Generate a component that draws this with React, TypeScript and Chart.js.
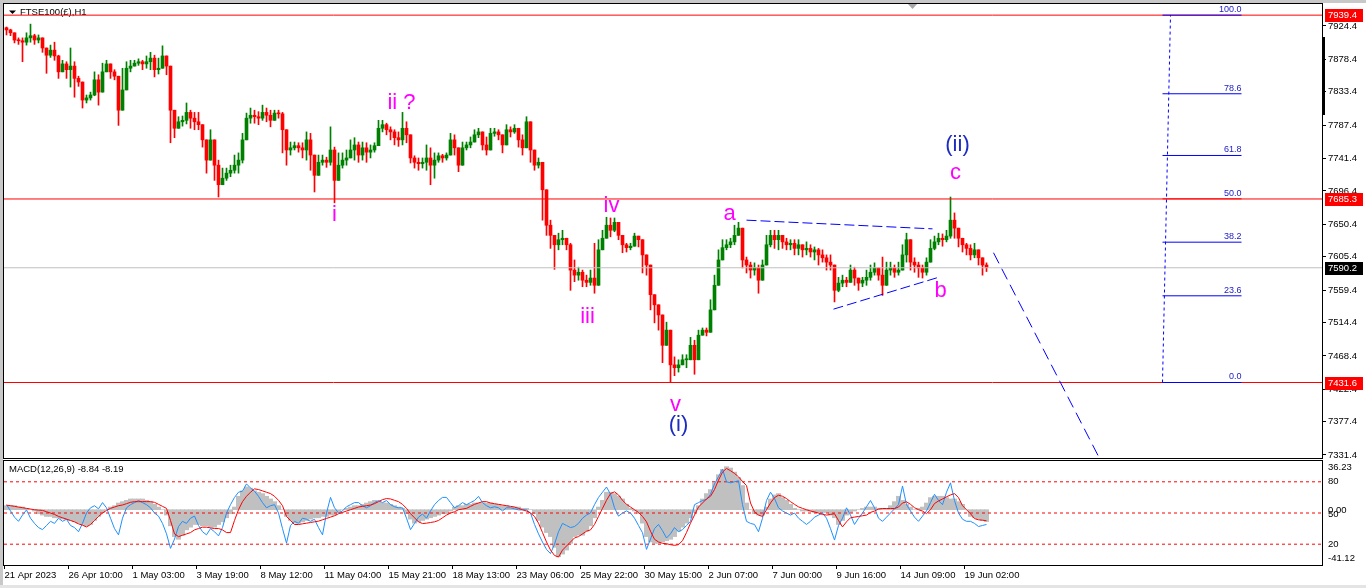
import { useEffect, useRef } from 'react';
import { Chart, registerables } from 'chart.js';

Chart.register(...registerables);

const FONT = '"Liberation Sans", Arial, sans-serif';

// ---------------- data ----------------
const symbolTitle = 'FTSE100(£),H1';

const timeLabels = [
  '21 Apr 2023', '26 Apr 10:00', '1 May 03:00', '3 May 19:00', '8 May 12:00', '11 May 04:00',
  '15 May 21:00', '18 May 13:00', '23 May 06:00', '25 May 22:00', '30 May 15:00', '2 Jun 07:00',
  '7 Jun 00:00', '9 Jun 16:00', '14 Jun 09:00', '19 Jun 02:00',
];
const barsPerTimeLabel = 16;

const priceTicks = [
  7924.4, 7878.4, 7833.4, 7787.4, 7741.4, 7696.4, 7650.4, 7605.4, 7559.4, 7514.4, 7468.4, 7422.4, 7377.4, 7331.4,
];

const firstOpen = 7922;
const closes = [
  7919, 7915, 7905, 7904, 7902, 7908, 7911, 7905, 7908, 7894,
  7884, 7891, 7883, 7861, 7872, 7864, 7869, 7852, 7847, 7822,
  7825, 7829, 7850, 7833, 7861, 7872, 7861, 7855, 7808, 7836,
  7866, 7869, 7873, 7875, 7872, 7875, 7880, 7864, 7866, 7883,
  7869, 7808, 7783, 7792, 7794, 7805, 7797, 7792, 7788, 7767,
  7739, 7767, 7732, 7705, 7714, 7721, 7725, 7732, 7739, 7767,
  7797, 7801, 7799, 7797, 7805, 7801, 7794, 7804, 7803, 7781,
  7753, 7756, 7759, 7756, 7753, 7767, 7746, 7718, 7736, 7739,
  7736, 7753, 7711, 7732, 7739, 7742, 7753, 7760, 7746, 7756,
  7750, 7753, 7759, 7783, 7788, 7781, 7778, 7770, 7767, 7783,
  7774, 7742, 7736, 7734, 7736, 7742, 7732, 7739, 7745, 7742,
  7746, 7767, 7756, 7732, 7756, 7760, 7764, 7774, 7778, 7760,
  7753, 7776, 7778, 7774, 7760, 7781, 7778, 7783, 7767, 7756,
  7792, 7753, 7732, 7736, 7698, 7649, 7635, 7622, 7629, 7631,
  7622, 7587, 7580, 7584, 7573, 7570, 7576, 7566, 7615, 7631,
  7649, 7642, 7653, 7635, 7622, 7618, 7620, 7634, 7629, 7608,
  7594, 7553, 7539, 7525, 7483, 7504, 7456, 7452, 7456, 7463,
  7463, 7483, 7463, 7497, 7504, 7501, 7532, 7566, 7601, 7618,
  7622, 7626, 7635, 7645, 7601, 7594, 7587, 7590, 7573, 7594,
  7622, 7635, 7629, 7635, 7626, 7622, 7624, 7617, 7622, 7615,
  7617, 7612, 7615, 7608, 7604, 7598, 7594, 7559, 7569, 7573,
  7570, 7587, 7576, 7569, 7573, 7577, 7584, 7590, 7580, 7566,
  7587, 7590, 7584, 7587, 7608, 7629, 7598, 7594, 7590, 7584,
  7598, 7617, 7626, 7631, 7629, 7634, 7656, 7645, 7631, 7622,
  7617, 7608, 7615, 7604, 7594, 7590.2,
];
const highs = [
  7923, 7920, 7909, 7908, 7908, 7915, 7927, 7913, 7912, 7902,
  7891, 7898, 7902, 7884, 7877, 7875, 7894, 7875, 7855, 7844,
  7829, 7833, 7861, 7857, 7873, 7877, 7866, 7864, 7850, 7866,
  7875, 7877, 7877, 7879, 7877, 7883, 7888, 7884, 7880, 7897,
  7877, 7864, 7794, 7799, 7800, 7818, 7808, 7805, 7805, 7785,
  7760, 7781, 7757, 7739, 7728, 7728, 7732, 7746, 7749, 7776,
  7804, 7811, 7808, 7806, 7815, 7811, 7808, 7808, 7808, 7805,
  7767, 7764, 7764, 7763, 7763, 7778, 7776, 7739, 7746, 7746,
  7743, 7785, 7757, 7749, 7749, 7753, 7767, 7770, 7764, 7764,
  7763, 7760, 7763, 7794, 7794, 7790, 7785, 7781, 7778, 7805,
  7792, 7756, 7745, 7742, 7742, 7760, 7756, 7749, 7749, 7747,
  7749, 7776, 7774, 7750, 7764, 7764, 7771, 7781, 7783, 7771,
  7771, 7783, 7783, 7781, 7770, 7788, 7785, 7788, 7778, 7774,
  7799, 7770, 7742, 7742, 7732, 7659, 7656, 7635, 7638, 7642,
  7631, 7624, 7601, 7591, 7587, 7580, 7587, 7624, 7629, 7642,
  7660, 7659, 7659, 7645, 7629, 7624, 7624, 7638, 7634, 7626,
  7608, 7577, 7553, 7536, 7518, 7515, 7477, 7467, 7463, 7470,
  7470, 7494, 7490, 7504, 7507, 7507, 7546, 7580, 7615, 7629,
  7629, 7631, 7649, 7653, 7642, 7605, 7598, 7597, 7594, 7601,
  7635, 7642, 7642, 7642, 7635, 7631, 7629, 7629, 7629, 7622,
  7626, 7622, 7619, 7617, 7615, 7608, 7608, 7587, 7577, 7580,
  7577, 7594, 7591, 7576, 7577, 7587, 7594, 7597, 7590, 7605,
  7598, 7598, 7594, 7598, 7622, 7638, 7622, 7604, 7598, 7594,
  7604, 7629, 7634, 7638, 7637, 7642, 7688, 7666, 7645, 7631,
  7624, 7622, 7624, 7615, 7601, 7597,
];
const lows = [
  7912, 7911, 7901, 7899, 7875, 7898, 7902, 7899, 7901, 7888,
  7859, 7881, 7877, 7852, 7861, 7852, 7840, 7826, 7841, 7811,
  7818, 7822, 7828, 7815, 7839, 7864, 7852, 7850, 7787, 7808,
  7857, 7861, 7869, 7870, 7864, 7866, 7864, 7854, 7858, 7869,
  7857, 7763, 7770, 7785, 7786, 7789, 7783, 7781, 7781, 7757,
  7721, 7757, 7711, 7688, 7705, 7711, 7716, 7721, 7721, 7735,
  7776, 7790, 7790, 7788, 7794, 7792, 7785, 7797, 7797, 7749,
  7732, 7746, 7753, 7750, 7742, 7739, 7725, 7695, 7725, 7732,
  7729, 7732, 7680, 7723, 7728, 7732, 7742, 7739, 7736, 7739,
  7736, 7742, 7750, 7767, 7778, 7774, 7767, 7760, 7758, 7760,
  7763, 7735, 7728, 7725, 7728, 7725, 7705, 7714, 7736, 7736,
  7739, 7760, 7746, 7723, 7750, 7753, 7756, 7767, 7770, 7753,
  7746, 7767, 7772, 7767, 7749, 7771, 7771, 7776, 7757, 7746,
  7778, 7736, 7725, 7728, 7656, 7635, 7617, 7588, 7615, 7622,
  7615, 7559, 7571, 7573, 7564, 7564, 7566, 7555, 7594, 7617,
  7633, 7633, 7640, 7629, 7611, 7612, 7615, 7626, 7619, 7583,
  7580, 7532, 7514, 7504, 7459, 7486, 7431.6, 7441, 7446, 7456,
  7452, 7463, 7443, 7490, 7497, 7496, 7511, 7546, 7573, 7608,
  7615, 7618, 7622, 7638, 7590, 7583, 7576, 7580, 7555, 7580,
  7601, 7619, 7617, 7615, 7617, 7615, 7615, 7608, 7608, 7605,
  7608, 7605, 7601, 7594, 7598, 7587, 7587, 7543, 7557, 7564,
  7564, 7576, 7566, 7559, 7564, 7566, 7573, 7580, 7573, 7552,
  7580, 7580, 7577, 7580, 7594, 7598, 7587, 7584, 7577, 7576,
  7580, 7598, 7615, 7622, 7620, 7626, 7631, 7631, 7619, 7612,
  7608, 7601, 7604, 7594, 7580, 7585,
];

const keyLevels = [7939.4, 7685.3, 7431.6];
const bidPrice = 7590.2;
const fibLow = 7431.6;
const fibHigh = 7939.4;
const fibRatios = [100, 78.6, 61.8, 50, 38.2, 23.6, 0];
const fibSpan = [289, 308.75];
const fibAnchor = [
  { bar: 289, price: 7431.6 },
  { bar: 291, price: 7939.4 },
];
const triangleUpper = [
  { bar: 185, price: 7656 },
  { bar: 231.5, price: 7644 },
];
const triangleLower = [
  { bar: 206.75, price: 7533 },
  { bar: 233, price: 7577 },
];
const projection = [
  { bar: 246.75, price: 7611 },
  { bar: 275.75, price: 7300 },
];
const waveLabels = [
  { text: 'i', bar: 82, price: 7663, degree: 'minor' },
  { text: 'ii ?', bar: 98.75, price: 7818, degree: 'minor' },
  { text: 'iii', bar: 145.25, price: 7522, degree: 'minor' },
  { text: 'iv', bar: 151.25, price: 7675.5, degree: 'minor' },
  { text: 'v', bar: 167.25, price: 7400.5, degree: 'minor' },
  { text: '(i)', bar: 168, price: 7372.8, degree: 'major' },
  { text: 'a', bar: 180.75, price: 7664.5, degree: 'minor' },
  { text: 'b', bar: 233.5, price: 7558, degree: 'minor' },
  { text: 'c', bar: 237.25, price: 7721.2, degree: 'minor' },
  { text: '(ii)', bar: 237.75, price: 7760, degree: 'major' },
];

const macdHist = [
  3, 3, 3, 2, 2, 1, 0, -1, -3, -4,
  -5, -5, -6, -6, -7, -7, -8, -9, -10, -11,
  -12, -11, -8, -5, -2, 0, 2, 3, 5, 6,
  7, 8, 8, 8, 8, 7, 6, 4, 2, 0,
  -4, -12, -20, -22, -19, -15, -13, -11, -11, -12,
  -12, -13, -13, -11, -9, -6, -3, 2, 10, 14,
  17, 16, 14, 13, 12, 10, 8, 6, 3, 0,
  -5, -8, -10, -10, -9, -8, -7, -6, -6, -5,
  -5, -4, -4, -2, 0, 1, 2, 3, 3, 4,
  5, 6, 7, 6, 5, 5, 4, 3, 2, 1,
  -3, -7, -10, -9, -8, -7, -6, -5, -4, -3,
  -3, -1, 2, 3, 3, 4, 4, 5, 5, 5,
  5, 5, 4, 4, 3, 3, 2, 2, 2, 1,
  1, 0, -3, -8, -13, -17, -20, -28, -35, -33,
  -30, -25, -20, -19, -19, -16, -12, -6, 2, 7,
  13, 13, 12, 10, 8, 4, 1, -1, -3, -10,
  -20, -24, -25, -25, -24, -23, -22, -20, -16, -13,
  -10, -6, -2, 3, 8, 12, 15, 20, 26, 30,
  32, 31, 28, 24, 18, 5, 0, -3, -4, -4,
  2, 8, 11, 12, 9, 7, 4, 1, 0, -1,
  -1, -1, -2, -2, -2, -2, -4, -6, -11, -8,
  -4, -2, -1, 0, 1, 2, 2, 2, 1, 1,
  1, 3, 6, 10, 7, 4, 2, 0, 1, 2,
  5, 9, 10, 10, 10, 9, 8, 8, 6, 4,
  0, -5, -6, -7, -8, -8.84,
];
const macdSignal = [
  3.4, 3, 2.5, 2, 1.5, 1, 0.5, 0, -0.3, -0.5,
  -1.5, -2.5, -3.5, -5, -6, -7, -8, -9, -10.5, -11.5,
  -12.8, -11, -8, -5, -2.5, -0.5, 1, 2, 3, 3.5,
  4.5, 5.5, 6, 6, 6, 6, 6, 5.5, 4, 2.5,
  1, -8, -18, -20, -19, -18, -17, -15, -14, -13,
  -13, -13.5, -14, -14, -15, -17, -17, -8, 0, 6,
  10, 13, 15.5, 15, 14, 13, 12, 10, 7, 3,
  -5, -8, -11, -11, -10.5, -10, -9.5, -9, -8.5, -7.5,
  -6.5, -5.5, -4.5, -3, -2, -1, 0, 1, 2, 2.5,
  3, 3.5, 4.5, 6, 7.5, 8.3, 8, 7, 6, 4,
  1, -3, -6, -9, -10.3, -10, -9.5, -9, -8, -6,
  -4, -2.5, -1.5, 0, 0.5, 1, 2.5, 4, 5, 6,
  6, 5, 4.5, 4, 3.5, 3, 2.5, 2, 1, 0,
  -1, -2.5, -5, -10, -17, -24, -30, -34, -35.2, -30,
  -27, -24, -21, -20, -18, -16, -15, -11, -5, 1,
  7, 12, 13.3, 11, 7, 4, 2, 0, -2, -5,
  -9, -16, -22, -24, -25, -25.3, -26, -26.5, -26, -23,
  -17, -10, -4, 2, 5, 8, 10, 15, 22, 28,
  30.7, 29, 27, 24.5, 21, 18, 5, -1.6, -4, -5,
  0, 5, 9, 10.8, 10, 8.3, 6, 4, 2.1, 1,
  0, -1, -1.6, -2.5, -3.5, -4, -3.5, -3, -8, -12.8,
  -9, -6, -5.5, -5, -4.5, -4, -2, -1, 0.5, 0.9,
  0.9, 0.9, 0.9, 2, 5, 5.9, 4, 1.5, 0, -1,
  -2.9, 0, 4.6, 6.5, 8, 9.6, 11, 12, 9, 3,
  0, -3, -6.6, -7.5, -7.8, -8.19,
];
const oscillator = [
  58, 52, 46, 42, 48, 53, 45, 40, 36, 34,
  38, 42, 40, 45, 42, 44, 38, 36, 32, 40,
  50, 55, 57, 54, 60, 55, 45, 35, 29, 45,
  55, 58, 60, 62, 60, 58, 55, 50, 47, 40,
  30, 16, 25, 37, 42, 40, 45, 47, 38, 32,
  29, 35, 32, 28, 36, 50, 58, 65, 70, 71,
  78, 74, 71, 66, 60, 55, 57, 58, 50, 35,
  21, 38, 42, 40, 45, 44, 42, 44, 36, 29,
  50, 65, 55, 50, 52, 56, 58, 60, 60, 57,
  55, 57, 60, 62, 60, 62, 58, 56, 55, 55,
  45, 34, 40, 46, 49, 45, 52, 58, 62, 65,
  65, 60, 55, 57, 60, 58, 60, 62, 66, 60,
  57, 55, 56, 55, 52, 55, 55, 54, 53, 53,
  53, 50, 39, 30, 22, 15, 11, 20, 32, 40,
  38, 36, 37, 40, 45, 48, 50, 58, 65, 70,
  75, 68, 55, 47, 50, 52, 50, 45, 38, 31,
  15, 25, 35, 39, 33, 26, 30, 36, 32, 34,
  38, 42, 58, 60, 62, 63, 68, 78, 85, 92,
  80, 79, 80, 81, 58, 42, 40, 39, 32, 45,
  62, 70, 64, 55, 52, 50, 48, 50, 45, 42,
  39, 42, 46, 48, 50, 45, 35, 24, 38, 45,
  55, 48, 39, 45, 50, 56, 62, 55, 45, 42,
  46, 50, 54, 58, 76, 58, 52, 46, 42, 47,
  52, 60, 68, 62, 58, 70, 79, 62, 50, 44,
  42, 42, 40, 37, 38, 39,
];
const macdMax = 36.23;
const macdMin = -41.12;
const oscLevels = [80, 50, 20];

// ---------------- layout / style ----------------
const X_MIN = -0.625;
const X_MAX = 328.875;
const Y_MIN = 7327.25;
const Y_MAX = 7954.81;
const GREEN = '#008000';
const RED = '#FF0000';
const BLUE = '#0000FF';
const MAGENTA = '#FF00FF';

const opens = closes.map((c, i) => (i === 0 ? firstOpen : closes[i - 1]));
const candleColors = closes.map((c, i) => (c >= opens[i] ? GREEN : RED));

const seg = (pts: { bar: number; price: number }[]) => pts.map((p) => ({ x: p.bar, y: p.price }));
const fullLine = (v: number) => [
  { x: X_MIN, y: v },
  { x: X_MAX, y: v },
];
const fibPrice = (r: number) => fibLow + ((fibHigh - fibLow) * r) / 100;

const mainOverlay = {
  id: 'mainOverlay',
  beforeDatasetsDraw(chart: any) {
    const ctx = chart.ctx;
    ctx.save();
    ctx.fillStyle = '#000';
    ctx.beginPath();
    ctx.moveTo(9, 10.5);
    ctx.lineTo(16, 10.5);
    ctx.lineTo(12.5, 14);
    ctx.closePath();
    ctx.fill();
    ctx.font = `9.5px ${FONT}`;
    ctx.textAlign = 'left';
    ctx.textBaseline = 'middle';
    ctx.fillText(symbolTitle, 20, 12);
    ctx.fillStyle = '#A8A8A8';
    ctx.beginPath();
    ctx.moveTo(907, 3);
    ctx.lineTo(918, 3);
    ctx.lineTo(912.5, 9);
    ctx.closePath();
    ctx.fill();
    ctx.restore();
  },
  afterDatasetsDraw(chart: any) {
    const { ctx } = chart;
    const xs = chart.scales.x;
    const ys = chart.scales.y;
    ctx.save();
    ctx.textAlign = 'center';
    ctx.textBaseline = 'middle';
    ctx.font = `22px ${FONT}`;
    waveLabels.forEach((l) => {
      ctx.fillStyle = l.degree === 'major' ? '#1C2BC0' : MAGENTA;
      ctx.fillText(l.text, xs.getPixelForValue(l.bar), ys.getPixelForValue(l.price));
    });
    ctx.font = `9px ${FONT}`;
    ctx.textAlign = 'right';
    ctx.textBaseline = 'bottom';
    ctx.fillStyle = '#2020C8';
    fibRatios.forEach((r) => {
      ctx.fillText(r.toFixed(1), xs.getPixelForValue(fibSpan[1]), ys.getPixelForValue(fibPrice(r)) - 1);
    });
    ctx.restore();
  },
  afterDraw(chart: any) {
    const { ctx, chartArea } = chart;
    const ys = chart.scales.y;
    ctx.save();
    ctx.strokeStyle = '#000';
    ctx.lineWidth = 1;
    ctx.strokeRect(chartArea.left - 0.5, chartArea.top - 0.5, chartArea.right - chartArea.left + 1, chartArea.bottom - chartArea.top + 1);
    ctx.fillStyle = '#000';
    ctx.fillRect(chartArea.right, 37, 3, 78);
    ctx.font = `9.5px ${FONT}`;
    ctx.textAlign = 'left';
    ctx.textBaseline = 'middle';
    const boxes = [
      ...keyLevels.map((v) => ({ v, bg: RED })),
      { v: bidPrice, bg: '#000' },
    ];
    boxes.forEach((b) => {
      const py = Math.round(ys.getPixelForValue(b.v));
      ctx.fillStyle = b.bg;
      ctx.fillRect(chartArea.right + 3, py - 6, 38, 13);
      ctx.fillStyle = '#fff';
      ctx.fillText(b.v.toFixed(1), chartArea.right + 6, py + 0.5);
    });
    ctx.restore();
  },
};

const macdOverlay = {
  id: 'macdOverlay',
  afterDraw(chart: any) {
    const { ctx, chartArea } = chart;
    const ym = chart.scales.y;
    const yl = chart.scales.yLv;
    ctx.save();
    ctx.strokeStyle = '#000';
    ctx.lineWidth = 1;
    ctx.strokeRect(chartArea.left - 0.5, chartArea.top - 0.5, chartArea.right - chartArea.left + 1, chartArea.bottom - chartArea.top + 1);
    ctx.fillStyle = '#000';
    ctx.font = `9.5px ${FONT}`;
    ctx.textAlign = 'left';
    ctx.textBaseline = 'middle';
    const lastH = macdHist[macdHist.length - 1];
    const lastS = macdSignal[macdSignal.length - 1];
    ctx.fillText(`MACD(12,26,9) ${lastH.toFixed(2)} ${lastS.toFixed(2)}`, 9, chartArea.top + 8);
    const lx = chartArea.right + 6;
    ctx.fillText(macdMax.toFixed(2), lx, chartArea.top + 6.5);
    ctx.fillText(macdMin.toFixed(2), lx, chartArea.bottom - 7);
    ctx.fillText((0).toFixed(2), lx, ym.getPixelForValue(0) + 0.5);
    oscLevels.forEach((v) => ctx.fillText(String(v), lx, yl.getPixelForValue(v) + (v === 50 ? 1.5 : 0)));
    ctx.restore();
  },
};

function mainConfig(): any {
  const wick = closes.map((c, i) => ({
    x: i,
    y: [Math.min(lows[i], opens[i], c), Math.max(highs[i], opens[i], c)],
  }));
  const body = closes.map((c, i) => ({ x: i, y: [opens[i], c] }));
  const lineDs = (data: any[], color: string, order: number, dash: number[] = []) => ({
    type: 'line',
    data,
    borderColor: color,
    borderWidth: 1,
    borderDash: dash,
    pointRadius: 0,
    fill: false,
    tension: 0,
    order,
  });
  const datasets: any[] = [
    lineDs(seg(triangleUpper), BLUE, 1, [10, 4]),
    lineDs(seg(triangleLower), BLUE, 1, [10, 4]),
    lineDs(seg(projection), BLUE, 1, [12, 6]),
    lineDs(seg(fibAnchor), BLUE, 1, [3, 3]),
    ...fibRatios.map((r) =>
      lineDs(
        [
          { x: fibSpan[0], y: fibPrice(r) },
          { x: fibSpan[1], y: fibPrice(r) },
        ],
        r === 50 ? RED : BLUE,
        2
      )
    ),
    ...keyLevels.map((v) => lineDs(fullLine(v), RED, 3)),
    lineDs(fullLine(bidPrice), '#C0C0C0', 4),
    {
      type: 'bar',
      data: body,
      backgroundColor: candleColors,
      barThickness: 3,
      minBarLength: 1,
      grouped: false,
      borderWidth: 0,
      order: 5,
    },
    {
      type: 'bar',
      data: wick,
      backgroundColor: candleColors,
      barThickness: 1,
      grouped: false,
      borderWidth: 0,
      order: 6,
    },
  ];
  return {
    type: 'bar',
    data: { datasets },
    options: {
      responsive: false,
      maintainAspectRatio: false,
      devicePixelRatio: 1,
      animation: false,
      events: [],
      layout: { padding: { top: 4, left: 4, right: 0, bottom: 2 } },
      plugins: { legend: { display: false }, tooltip: { enabled: false } },
      scales: {
        x: { type: 'linear', min: X_MIN, max: X_MAX, offset: false, display: false, grid: { offset: false } },
        y: {
          type: 'linear',
          position: 'right',
          min: Y_MIN,
          max: Y_MAX,
          beginAtZero: false,
          afterBuildTicks: (s: any) => {
            s.ticks = priceTicks.map((v) => ({ value: v }));
          },
          afterFit: (s: any) => {
            s.width = 44;
            s.paddingTop = 0;
            s.paddingBottom = 0;
          },
          ticks: {
            autoSkip: false,
            callback: (v: any) => Number(v).toFixed(1),
            color: '#000',
            padding: 2,
            font: { size: 9.5, family: FONT },
          },
          grid: { drawOnChartArea: false, drawTicks: true, tickLength: 4, color: '#000' },
          border: { display: true, color: '#000' },
        },
      },
    },
    plugins: [mainOverlay],
  };
}

function macdConfig(): any {
  const idx = (arr: number[]) => arr.map((v, i) => ({ x: i, y: v }));
  const datasets: any[] = [
    {
      type: 'line',
      data: idx(macdSignal),
      borderColor: RED,
      borderWidth: 1,
      pointRadius: 0,
      tension: 0,
      yAxisID: 'y',
      order: 0,
    },
    {
      type: 'line',
      data: idx(oscillator),
      borderColor: '#1E90FF',
      borderWidth: 1,
      pointRadius: 0,
      tension: 0,
      yAxisID: 'yLv',
      order: 1,
    },
    ...oscLevels.map((v) => ({
      type: 'line',
      data: fullLine(v),
      borderColor: RED,
      borderWidth: 1,
      borderDash: [3, 3],
      pointRadius: 0,
      yAxisID: 'yLv',
      order: 2,
    })),
    {
      type: 'bar',
      data: idx(macdHist),
      backgroundColor: '#C0C0C0',
      barThickness: 4.4,
      grouped: false,
      borderWidth: 0,
      yAxisID: 'y',
      order: 3,
    },
  ];
  return {
    type: 'bar',
    data: { datasets },
    options: {
      responsive: false,
      maintainAspectRatio: false,
      devicePixelRatio: 1,
      animation: false,
      events: [],
      layout: { padding: { top: 1, left: 4, right: 44, bottom: 0 } },
      plugins: { legend: { display: false }, tooltip: { enabled: false } },
      scales: {
        x: {
          type: 'linear',
          position: 'bottom',
          min: X_MIN,
          max: X_MAX,
          offset: false,
          afterBuildTicks: (s: any) => {
            s.ticks = timeLabels.map((_, i) => ({ value: i * barsPerTimeLabel - 0.5 }));
          },
          afterFit: (s: any) => {
            s.height = 20;
            s.paddingLeft = 0;
            s.paddingRight = 0;
          },
          ticks: {
            autoSkip: false,
            maxRotation: 0,
            minRotation: 0,
            align: 'start',
            padding: 1,
            color: '#000',
            font: { size: 9.5, family: FONT },
            callback: (_v: any, i: number) => timeLabels[i],
          },
          grid: { offset: false, drawOnChartArea: false, drawTicks: true, tickLength: 4, color: '#000' },
          border: { display: true, color: '#000' },
        },
        y: { type: 'linear', display: false, min: macdMin, max: macdMax, beginAtZero: false },
        yLv: { type: 'linear', display: false, min: 0, max: 100, beginAtZero: false },
      },
    },
    plugins: [macdOverlay],
  };
}

export default function App() {
  const mainRef = useRef<HTMLCanvasElement>(null);
  const macdRef = useRef<HTMLCanvasElement>(null);
  useEffect(() => {
    Chart.defaults.font.family = FONT;
    const main = new Chart(mainRef.current as HTMLCanvasElement, mainConfig());
    const macd = new Chart(macdRef.current as HTMLCanvasElement, macdConfig());
    return () => {
      main.destroy();
      macd.destroy();
    };
  }, []);
  return (
    <div
      style={{
        position: 'fixed',
        left: 0,
        top: 0,
        width: 1366,
        height: 588,
        background: '#fff',
        overflow: 'hidden',
        fontFamily: FONT,
      }}
    >
      <div style={{ position: 'absolute', left: 0, top: 0, width: 1366, height: 3, background: '#C8C8C8' }} />
      <div style={{ position: 'absolute', left: 0, top: 0, width: 3, height: 588, background: '#C8C8C8' }} />
      <div style={{ position: 'absolute', left: 0, top: 585, width: 1366, height: 3, background: '#E4E4E4' }} />
      <canvas
        ref={mainRef}
        width={1366}
        height={460}
        style={{ position: 'absolute', left: 0, top: 0, width: 1366, height: 460, display: 'block' }}
      />
      <canvas
        ref={macdRef}
        width={1366}
        height={125}
        style={{ position: 'absolute', left: 0, top: 460, width: 1366, height: 125, display: 'block' }}
      />
    </div>
  );
}
